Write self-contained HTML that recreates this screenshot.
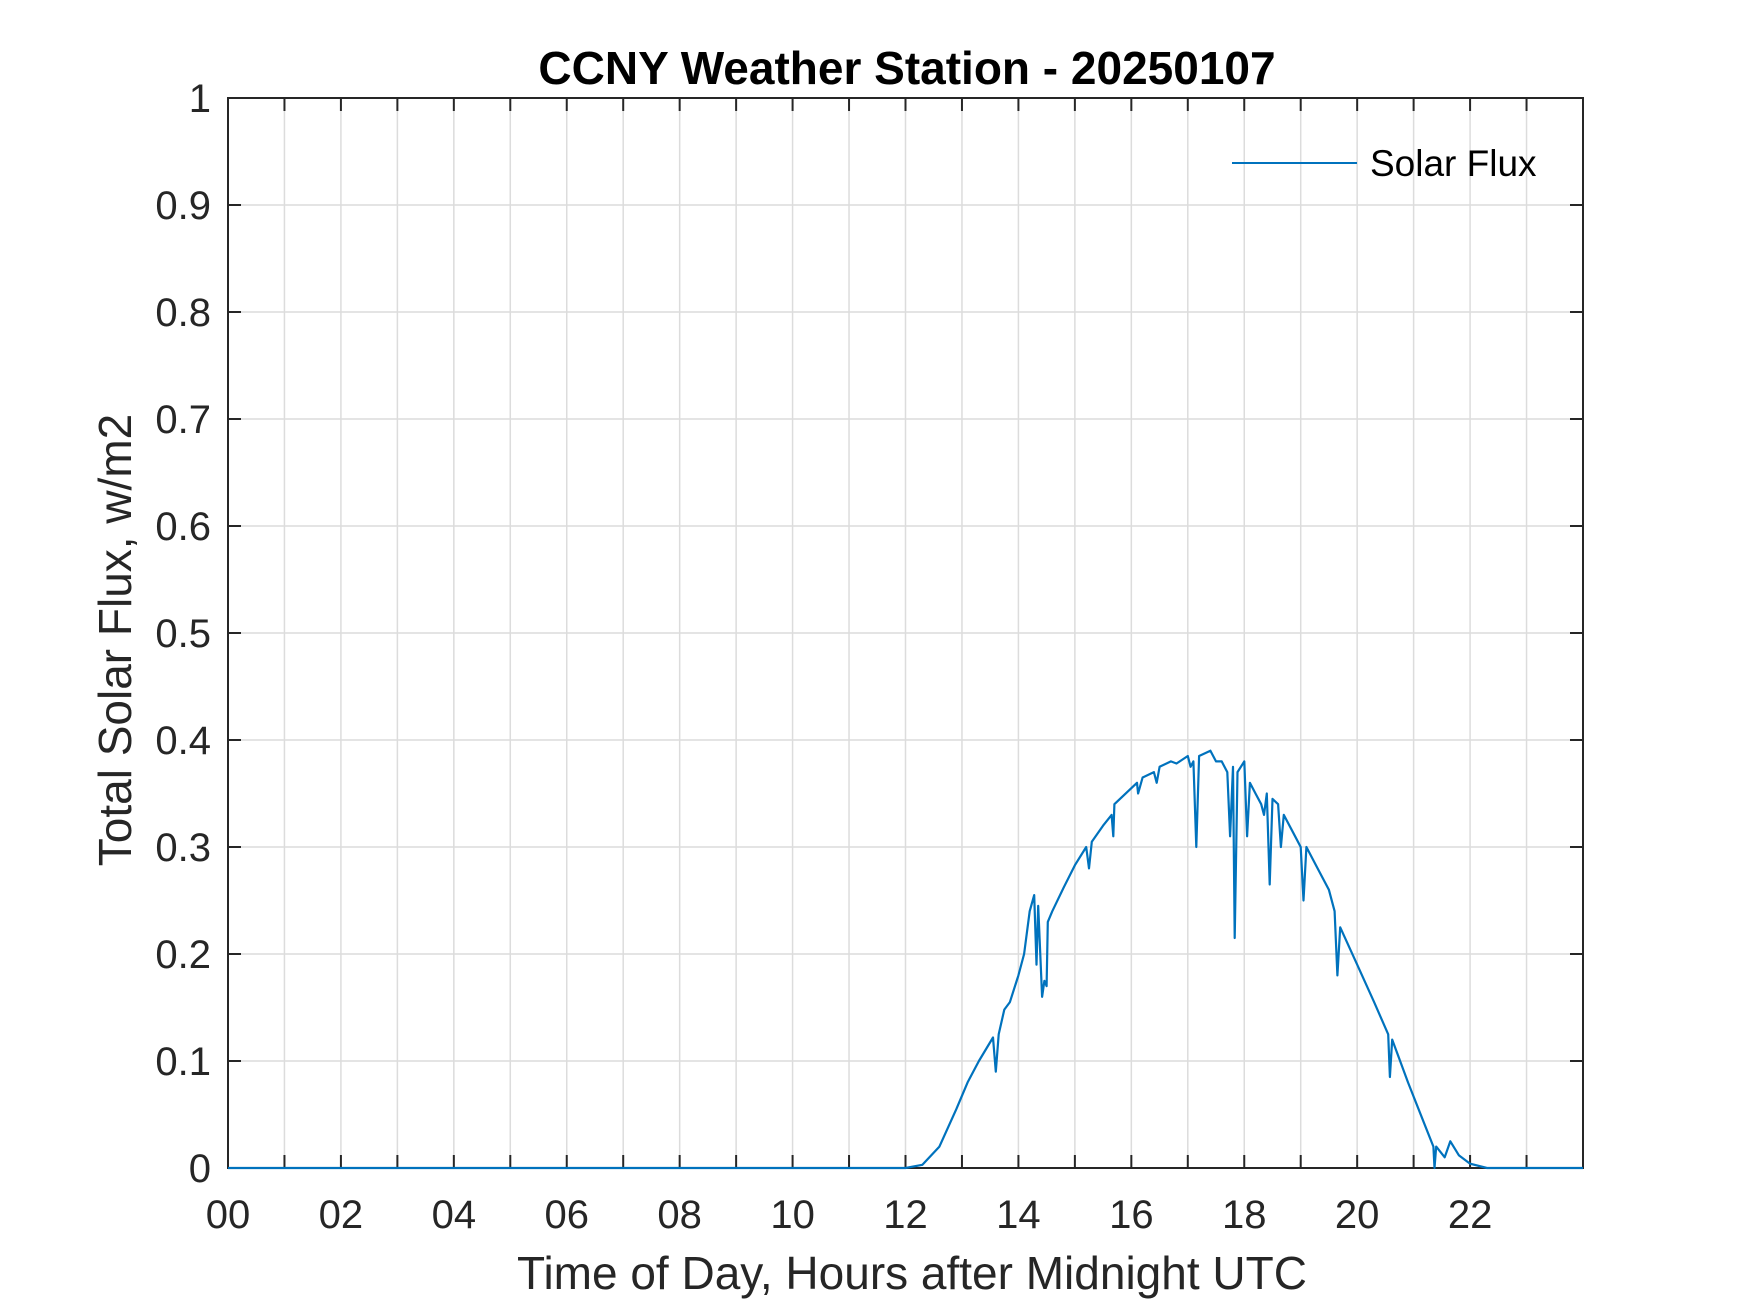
<!DOCTYPE html>
<html><head><meta charset="utf-8">
<style>
html,body{margin:0;padding:0;background:#fff;}
svg{display:block;font-family:"Liberation Sans",Arial,sans-serif;}
</style></head>
<body>
<svg id="chart" width="1750" height="1313" viewBox="0 0 1750 1313" xmlns="http://www.w3.org/2000/svg">
<rect width="1750" height="1313" fill="#fff"/>
<g id="grid"></g>
<g id="axes"></g>
<g id="series"></g>
<text x="907" y="84" text-anchor="middle" font-size="46" font-weight="bold" fill="#000">CCNY Weather Station - 20250107</text>
<text x="912" y="1289" text-anchor="middle" font-size="46" fill="#262626">Time of Day, Hours after Midnight UTC</text>
<text x="0" y="0" transform="translate(131,640) rotate(-90)" text-anchor="middle" font-size="46" fill="#262626">Total Solar Flux, w/m2</text>
<g>
<line x1="1232" y1="163" x2="1357" y2="163" stroke="#0072BD" stroke-width="2"/>
<text x="1370" y="176" font-size="37" fill="#000">Solar Flux</text>
</g>
</svg>
<script>
const hours = [0,12.0,12.3,12.6,12.9,13.1,13.3,13.55,13.6,13.65,13.75,13.85,14.0,14.1,14.2,14.28,14.32,14.35,14.42,14.46,14.5,14.52,14.6,14.8,15.0,15.2,15.25,15.3,15.5,15.65,15.68,15.7,16.0,16.1,16.12,16.2,16.4,16.45,16.5,16.7,16.8,17.0,17.05,17.1,17.15,17.2,17.4,17.5,17.6,17.7,17.75,17.8,17.83,17.88,18.0,18.05,18.1,18.2,18.3,18.35,18.4,18.45,18.5,18.6,18.65,18.7,18.9,19.0,19.05,19.1,19.3,19.5,19.6,19.65,19.7,20.0,20.3,20.55,20.58,20.62,20.9,21.2,21.35,21.37,21.4,21.55,21.65,21.8,22.0,22.3,24];
const flux = [0,0,0.003,0.02,0.055,0.08,0.1,0.122,0.09,0.125,0.148,0.155,0.18,0.2,0.24,0.255,0.19,0.245,0.16,0.175,0.17,0.23,0.24,0.262,0.283,0.30,0.28,0.305,0.32,0.33,0.31,0.34,0.355,0.36,0.35,0.365,0.37,0.36,0.375,0.38,0.378,0.385,0.375,0.38,0.30,0.385,0.39,0.38,0.38,0.37,0.31,0.375,0.215,0.37,0.38,0.31,0.36,0.35,0.34,0.33,0.35,0.265,0.345,0.34,0.30,0.33,0.31,0.30,0.25,0.30,0.28,0.26,0.24,0.18,0.225,0.19,0.155,0.125,0.085,0.12,0.08,0.04,0.02,0,0.02,0.01,0.025,0.012,0.004,0,0];
const xTickLabels = ["00","02","04","06","08","10","12","14","16","18","20","22"];
const yTickLabels = ["0","0.1","0.2","0.3","0.4","0.5","0.6","0.7","0.8","0.9","1"];

const L=228,R=1583,T=98,B=1168;
const xs = h => L + h/24*(R-L);
const ys = v => B - v*(B-T);
const NS="http://www.w3.org/2000/svg";
function mk(tag, attrs, parent){const e=document.createElementNS(NS,tag);for(const k in attrs)e.setAttribute(k,attrs[k]);parent.appendChild(e);return e;}
const grid=document.getElementById('grid'), axes=document.getElementById('axes'), series=document.getElementById('series');

for(let h=1;h<24;h++){
  const g=mk('line',{x1:xs(h),x2:xs(h),y1:T,y2:B,stroke:'#dcdcdc','stroke-width':1.5},grid);
  
  
}
for(let i=1;i<10;i++){
  const g=mk('line',{x1:L,x2:R,y1:ys(i/10),y2:ys(i/10),stroke:'#dcdcdc','stroke-width':1.5},grid);
  
  
}

const box=mk('rect',{x:L,y:T,width:R-L,height:B-T,fill:'none',stroke:'#262626','stroke-width':2},axes);


for(let h=1;h<24;h++){
  const t1=mk('line',{x1:xs(h),x2:xs(h),y1:B,y2:B-13,stroke:'#262626','stroke-width':2},axes);
  
  
  const t2=mk('line',{x1:xs(h),x2:xs(h),y1:T,y2:T+13,stroke:'#262626','stroke-width':2},axes);
  
  
}
xTickLabels.forEach((lab,i)=>{
  const t=mk('text',{x:xs(i*2),y:1228,'text-anchor':'middle','font-size':40,fill:'#262626'},axes);
  t.textContent=lab;
  
  
});
yTickLabels.forEach((lab,i)=>{
  const v=i/10;
  const a=mk('line',{x1:L,x2:L+13,y1:ys(v),y2:ys(v),stroke:'#262626','stroke-width':2},axes);
  
  
  const b=mk('line',{x1:R,x2:R-13,y1:ys(v),y2:ys(v),stroke:'#262626','stroke-width':2},axes);
  
  
  const t=mk('text',{x:211,y:ys(v)+14,'text-anchor':'end','font-size':40,fill:'#262626'},axes);
  t.textContent=lab;
  
  
});

let d='';
hours.forEach((h,i)=>{d+=(i?'L':'M')+xs(h).toFixed(1)+' '+ys(flux[i]).toFixed(1);});
const p=mk('path',{d:d,fill:'none',stroke:'#0072BD','stroke-width':2.2,'stroke-linejoin':'round'},series);


</script>
</body></html>
